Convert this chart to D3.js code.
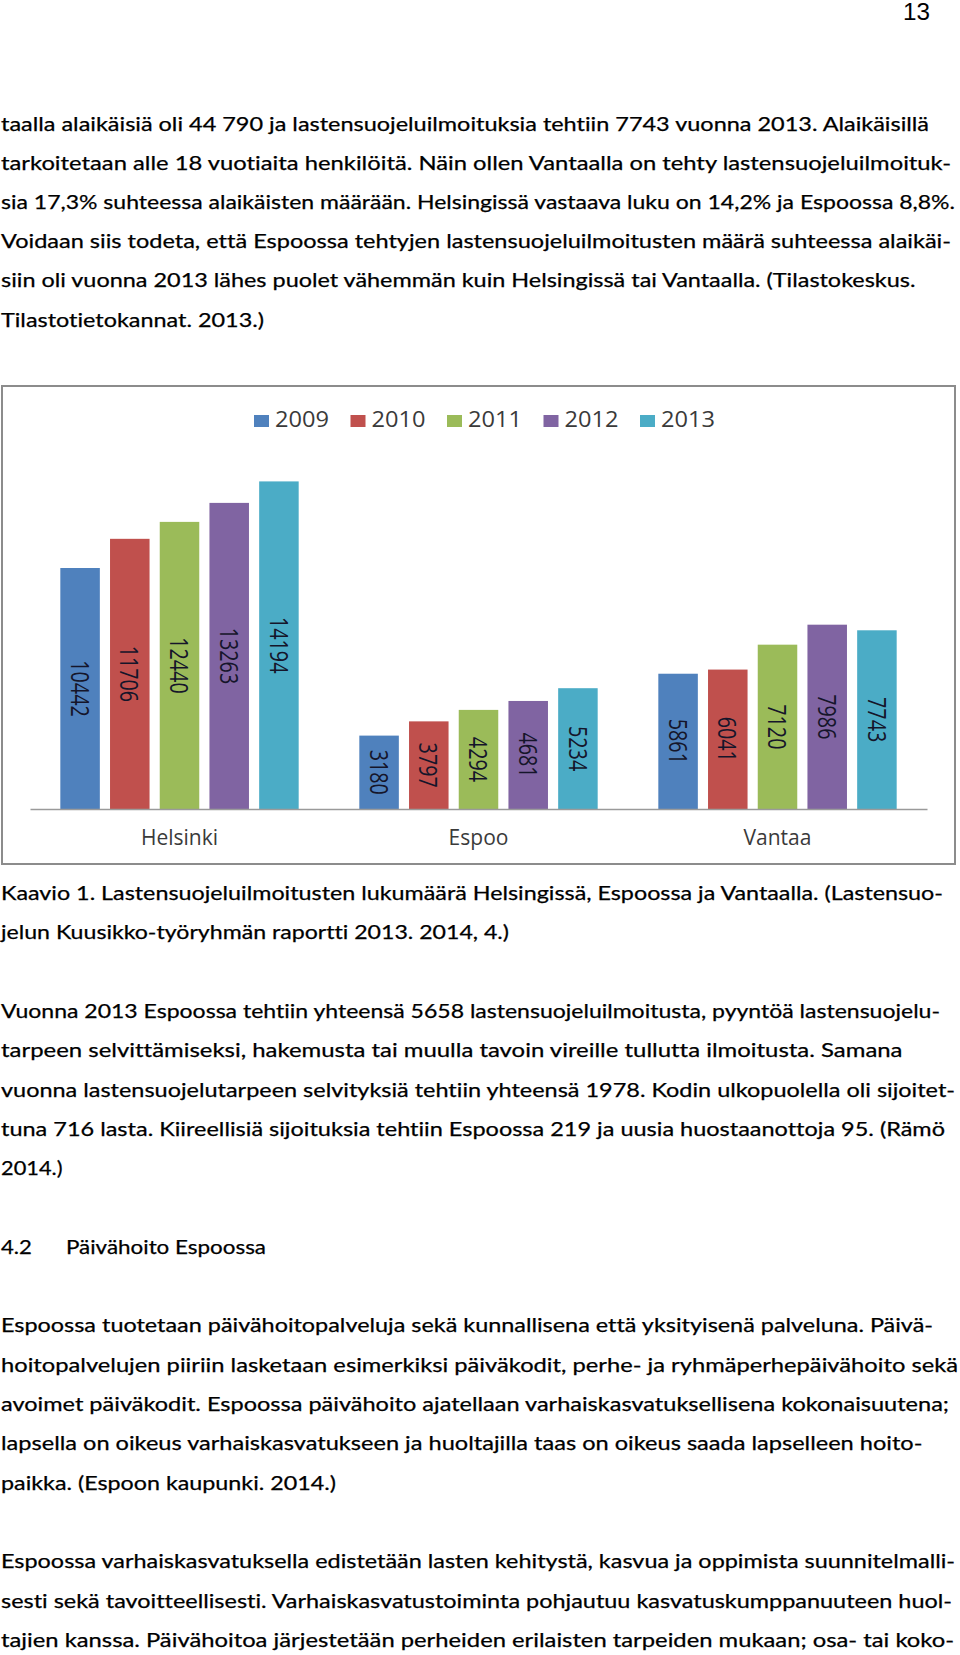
<!DOCTYPE html>
<html>
<head>
<meta charset="utf-8">
<script src="https://cdn.jsdelivr.net/npm/d3@7"></script>
<style>
  html, body { margin: 0; padding: 0; background: #fff; }
  svg { display: block; }
  text { font-variant-ligatures: none; font-feature-settings: "liga" 0, "clig" 0; }
</style>
</head>
<body>
<svg id="page" width="960" height="1655"></svg>
<script>
// ---------- chart data ----------
const cities = ["Helsinki", "Espoo", "Vantaa"];
const years = ["2009", "2010", "2011", "2012", "2013"];
const values2009 = [10442, 3180, 5861];
const values2010 = [11706, 3797, 6041];
const values2011 = [12440, 4294, 7120];
const values2012 = [13263, 4681, 7986];
const values2013 = [14194, 5234, 7743];
const seriesColors = ["#4F81BD", "#C0504D", "#9BBB59", "#8064A2", "#4BACC6"];

// ---------- page text ----------
const para1 = [
  "taalla alaikäisiä oli 44 790 ja lastensuojeluilmoituksia tehtiin 7743 vuonna 2013. Alaikäisillä",
  "tarkoitetaan alle 18 vuotiaita henkilöitä. Näin ollen Vantaalla on tehty lastensuojeluilmoituk-",
  "sia 17,3% suhteessa alaikäisten määrään. Helsingissä vastaava luku on 14,2% ja Espoossa 8,8%.",
  "Voidaan siis todeta, että Espoossa tehtyjen lastensuojeluilmoitusten määrä suhteessa alaikäi-",
  "siin oli vuonna 2013 lähes puolet vähemmän kuin Helsingissä tai Vantaalla. (Tilastokeskus.",
  "Tilastotietokannat. 2013.)"
];
const caption = [
  "Kaavio 1. Lastensuojeluilmoitusten lukumäärä Helsingissä, Espoossa ja Vantaalla. (Lastensuo-",
  "jelun Kuusikko-työryhmän raportti 2013. 2014, 4.)"
];
const para2 = [
  "Vuonna 2013 Espoossa tehtiin yhteensä 5658 lastensuojeluilmoitusta, pyyntöä lastensuojelu-",
  "tarpeen selvittämiseksi, hakemusta tai muulla tavoin vireille tullutta ilmoitusta. Samana",
  "vuonna lastensuojelutarpeen selvityksiä tehtiin yhteensä 1978. Kodin ulkopuolella oli sijoitet-",
  "tuna 716 lasta. Kiireellisiä sijoituksia tehtiin Espoossa 219 ja uusia huostaanottoja 95. (Rämö",
  "2014.)"
];
const headingNum = "4.2";
const headingText = "Päivähoito Espoossa";
const para3 = [
  "Espoossa tuotetaan päivähoitopalveluja sekä kunnallisena että yksityisenä palveluna. Päivä-",
  "hoitopalvelujen piiriin lasketaan esimerkiksi päiväkodit, perhe- ja ryhmäperhepäivähoito sekä",
  "avoimet päiväkodit. Espoossa päivähoito ajatellaan varhaiskasvatuksellisena kokonaisuutena;",
  "lapsella on oikeus varhaiskasvatukseen ja huoltajilla taas on oikeus saada lapselleen hoito-",
  "paikka. (Espoon kaupunki. 2014.)"
];
const para4 = [
  "Espoossa varhaiskasvatuksella edistetään lasten kehitystä, kasvua ja oppimista suunnitelmalli-",
  "sesti sekä tavoitteellisesti. Varhaiskasvatustoiminta pohjautuu kasvatuskumppanuuteen huol-",
  "tajien kanssa. Päivähoitoa järjestetään perheiden erilaisten tarpeiden mukaan; osa- tai koko-"
];

// ---------- layout (positions only) ----------
const para1Layout = { y: [130.5, 169.7, 208.9, 248.1, 287.3, 326.5], w: [928, 950, 954, 950, 914.5, 263] };
const captionLayout = { y: [900, 939.3], w: [942, 508] };
const para2Layout = { y: [1017.9, 1057.2, 1096.5, 1135.8, 1175.1], w: [939, 901.5, 954, 944, 61.5] };
const headingY = 1253.7;
const para3Layout = { y: [1332.4, 1371.7, 1411, 1450.3, 1489.6], w: [932, 957, 948, 921.5, 335] };
const para4Layout = { y: [1568.3, 1607.6, 1646.9], w: [954, 951, 953] };

const svg = d3.select("#page");
svg.append("rect").attr("width", 960).attr("height", 1655).attr("fill", "#fff");

const bodyFont = "Lato, 'Open Sans', sans-serif";
const bodySize = 19.5;

function drawLines(lines, layout) {
  lines.forEach((t, i) => {
    svg.append("text")
      .attr("x", 1)
      .attr("y", layout.y[i])
      .attr("font-family", bodyFont)
      .attr("font-size", bodySize)
      .attr("fill", "#000")
      .attr("stroke", "#000")
      .attr("stroke-width", 0.25)
      .attr("textLength", layout.w[i])
      .attr("lengthAdjust", "spacingAndGlyphs")
      .text(t);
  });
}

// page number
svg.append("text")
  .attr("x", 903).attr("y", 20)
  .attr("font-family", "'Liberation Sans', Arial, sans-serif")
  .attr("font-size", 23)
  .attr("textLength", 27).attr("lengthAdjust", "spacingAndGlyphs")
  .attr("fill", "#000")
  .text("13");

drawLines(para1, para1Layout);
drawLines(caption, captionLayout);
drawLines(para2, para2Layout);
svg.append("text").attr("x", 1).attr("y", headingY)
  .attr("font-family", bodyFont).attr("font-size", bodySize).attr("fill", "#000")
  .attr("stroke", "#000").attr("stroke-width", 0.25)
  .attr("textLength", 31).attr("lengthAdjust", "spacingAndGlyphs")
  .text(headingNum);
svg.append("text").attr("x", 66).attr("y", headingY)
  .attr("font-family", bodyFont).attr("font-size", bodySize).attr("fill", "#000")
  .attr("stroke", "#000").attr("stroke-width", 0.25)
  .attr("textLength", 200).attr("lengthAdjust", "spacingAndGlyphs")
  .text(headingText);
drawLines(para3, para3Layout);
drawLines(para4, para4Layout);

// ---------- chart ----------
const chartFont = "'Open Sans', 'Noto Sans', sans-serif";
const frame = { x: 2, y: 386, w: 953, h: 478 };
svg.append("rect")
  .attr("x", frame.x).attr("y", frame.y)
  .attr("width", frame.w).attr("height", frame.h)
  .attr("fill", "#fff")
  .attr("stroke", "#8c8c8c")
  .attr("stroke-width", 2);

const seriesValues = [values2009, values2010, values2011, values2012, values2013];
const data = cities.map((c, ci) => ({
  city: c,
  vals: years.map((y, yi) => ({ year: y, yi, value: seriesValues[yi][ci] }))
}));

const baseY = 809;
const y = d3.scaleLinear().domain([0, 16000]).range([baseY, baseY - 16000 * 0.02308]);
const x0 = d3.scaleBand().domain(cities).range([30, 927]).padding(0);
const x1 = d3.scaleBand().domain(years).range([0, x0.bandwidth()])
  .paddingInner(0.205).paddingOuter(0.61);
const color = d3.scaleOrdinal().domain(years).range(seriesColors);

const groups = svg.append("g").selectAll("g")
  .data(data).join("g")
  .attr("transform", d => `translate(${x0(d.city)},0)`);

groups.selectAll("rect")
  .data(d => d.vals).join("rect")
  .attr("x", d => x1(d.year))
  .attr("y", d => y(d.value))
  .attr("width", x1.bandwidth())
  .attr("height", d => y(0) - y(d.value))
  .attr("fill", d => color(d.year));

groups.selectAll("text.lbl")
  .data(d => d.vals).join("text")
  .attr("class", "lbl")
  .attr("transform", d => {
    const cx = x1(d.year) + x1.bandwidth() / 2;
    const cy = (y(d.value) + y(0)) / 2;
    return `translate(${cx},${cy}) rotate(90)`;
  })
  .attr("text-anchor", "middle")
  .attr("dy", "0.36em")
  .attr("font-family", chartFont)
  .attr("font-size", 26)
  .attr("fill", "#15152a")
  .attr("textLength", d => String(d.value).length * 11.3)
  .attr("lengthAdjust", "spacingAndGlyphs")
  .text(d => d.value);

// category axis
const axis = svg.append("g")
  .attr("transform", `translate(0,${baseY})`)
  .call(d3.axisBottom(x0).tickSize(0).tickPadding(0));
axis.select(".domain").attr("stroke", "#9a9a9a").attr("stroke-width", 1.5);
axis.selectAll("text")
  .attr("y", 36).attr("dy", 0)
  .attr("font-family", chartFont)
  .attr("font-size", 21)
  .attr("fill", "#3a3a3a");

// legend
const legX = d3.scaleBand().domain(years).range([254, 254 + 5 * 96.5]);
const leg = svg.append("g").selectAll("g")
  .data(years).join("g")
  .attr("transform", d => `translate(${legX(d)},0)`);
leg.append("rect")
  .attr("x", 0).attr("y", 415)
  .attr("width", 15).attr("height", 12)
  .attr("fill", d => color(d));
leg.append("text")
  .attr("x", 21).attr("y", 427)
  .attr("font-family", chartFont)
  .attr("font-size", 21)
  .attr("fill", "#3a3a3a")
  .attr("textLength", 54).attr("lengthAdjust", "spacingAndGlyphs")
  .text(d => d);
</script>
</body>
</html>
